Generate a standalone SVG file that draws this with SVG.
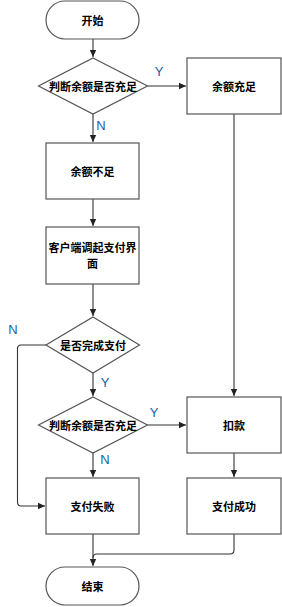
<svg xmlns="http://www.w3.org/2000/svg" width="282" height="607" viewBox="0 0 282 607">
<defs>
<marker id="ah" markerWidth="8" markerHeight="8" refX="7" refY="4" orient="auto" markerUnits="userSpaceOnUse">
<path d="M0,0.8 L7,4 L0,7.2 Z" fill="#222"/>
</marker>
<style>
.box{fill:#fff;stroke:#555;stroke-width:1.2}
.t{font-family:"Noto Sans CJK SC","Liberation Sans",sans-serif;font-size:11px;font-weight:bold;fill:#000;text-anchor:middle;dominant-baseline:central}
.lbl{font-family:"Liberation Sans",Arial,sans-serif;font-size:13px;fill:#1a5fa0;text-anchor:middle;dominant-baseline:central}
.c{fill:none;stroke:#333;stroke-width:1.1}
</style>
</defs>
<rect width="282" height="607" fill="#fff"/>
<g id="connectors">
<path class="c" d="M93,39 V57" marker-end="url(#ah)"/>
<path class="c" d="M147.5,86 H186" marker-end="url(#ah)"/>
<path class="c" d="M93,114 V142" marker-end="url(#ah)"/>
<path class="c" d="M93,199 V226" marker-end="url(#ah)"/>
<path class="c" d="M93,284 V316" marker-end="url(#ah)"/>
<path class="c" d="M234,114 V396" marker-end="url(#ah)"/>
<path class="c" d="M93,373 V396" marker-end="url(#ah)"/>
<path class="c" d="M46,345 H21 Q17.5,345 17.5,349 V502 Q17.5,506 21,506 H45" marker-end="url(#ah)"/>
<path class="c" d="M147.5,425 H186" marker-end="url(#ah)"/>
<path class="c" d="M93,453 V477" marker-end="url(#ah)"/>
<path class="c" d="M234,453 V477" marker-end="url(#ah)"/>
<path class="c" d="M93,534 V566" marker-end="url(#ah)"/>
<path class="c" d="M234,534 V550 Q234,554 230,554 H97 Q93,554 93,558"/>
<text class="lbl" x="159" y="71">Y</text>
<text class="lbl" x="101" y="125">N</text>
<text class="lbl" x="13" y="329">N</text>
<text class="lbl" x="105" y="382">Y</text>
<text class="lbl" x="154" y="412">Y</text>
<text class="lbl" x="105" y="459">N</text>
</g>
<g id="start">
<rect class="box" x="46" y="1" width="93" height="38" rx="19"/>
<text class="t" x="92.5" y="20">开始</text>
</g>
<g id="check1">
<polygon class="box" points="93,58 147.5,86 93,114 38.5,86"/>
<text class="t" x="93" y="86">判断余额是否充足</text>
</g>
<g id="enough">
<rect class="box" x="187" y="58" width="94" height="56"/>
<text class="t" x="234" y="86">余额充足</text>
</g>
<g id="notenough">
<rect class="box" x="46" y="143" width="93" height="56"/>
<text class="t" x="92.5" y="171">余额不足</text>
</g>
<g id="client">
<rect class="box" x="46" y="227" width="93" height="57"/>
<text class="t" x="92.5" y="247">客户端调起支付界</text>
<text class="t" x="92.5" y="263">面</text>
</g>
<g id="paid">
<polygon class="box" points="93,317 139.5,345 93,373 46,345"/>
<text class="t" x="93" y="345">是否完成支付</text>
</g>
<g id="check2">
<polygon class="box" points="93,397 147.5,425 93,453 38.5,425"/>
<text class="t" x="93" y="425">判断余额是否充足</text>
</g>
<g id="deduct">
<rect class="box" x="187" y="397" width="94" height="56"/>
<text class="t" x="234" y="425">扣款</text>
</g>
<g id="fail">
<rect class="box" x="46" y="478" width="93" height="56"/>
<text class="t" x="92.5" y="506">支付失败</text>
</g>
<g id="success">
<rect class="box" x="187" y="478" width="94" height="56"/>
<text class="t" x="234" y="506">支付成功</text>
</g>
<g id="end">
<rect class="box" x="46" y="567" width="93" height="38" rx="19"/>
<text class="t" x="92.5" y="586">结束</text>
</g>
</svg>
